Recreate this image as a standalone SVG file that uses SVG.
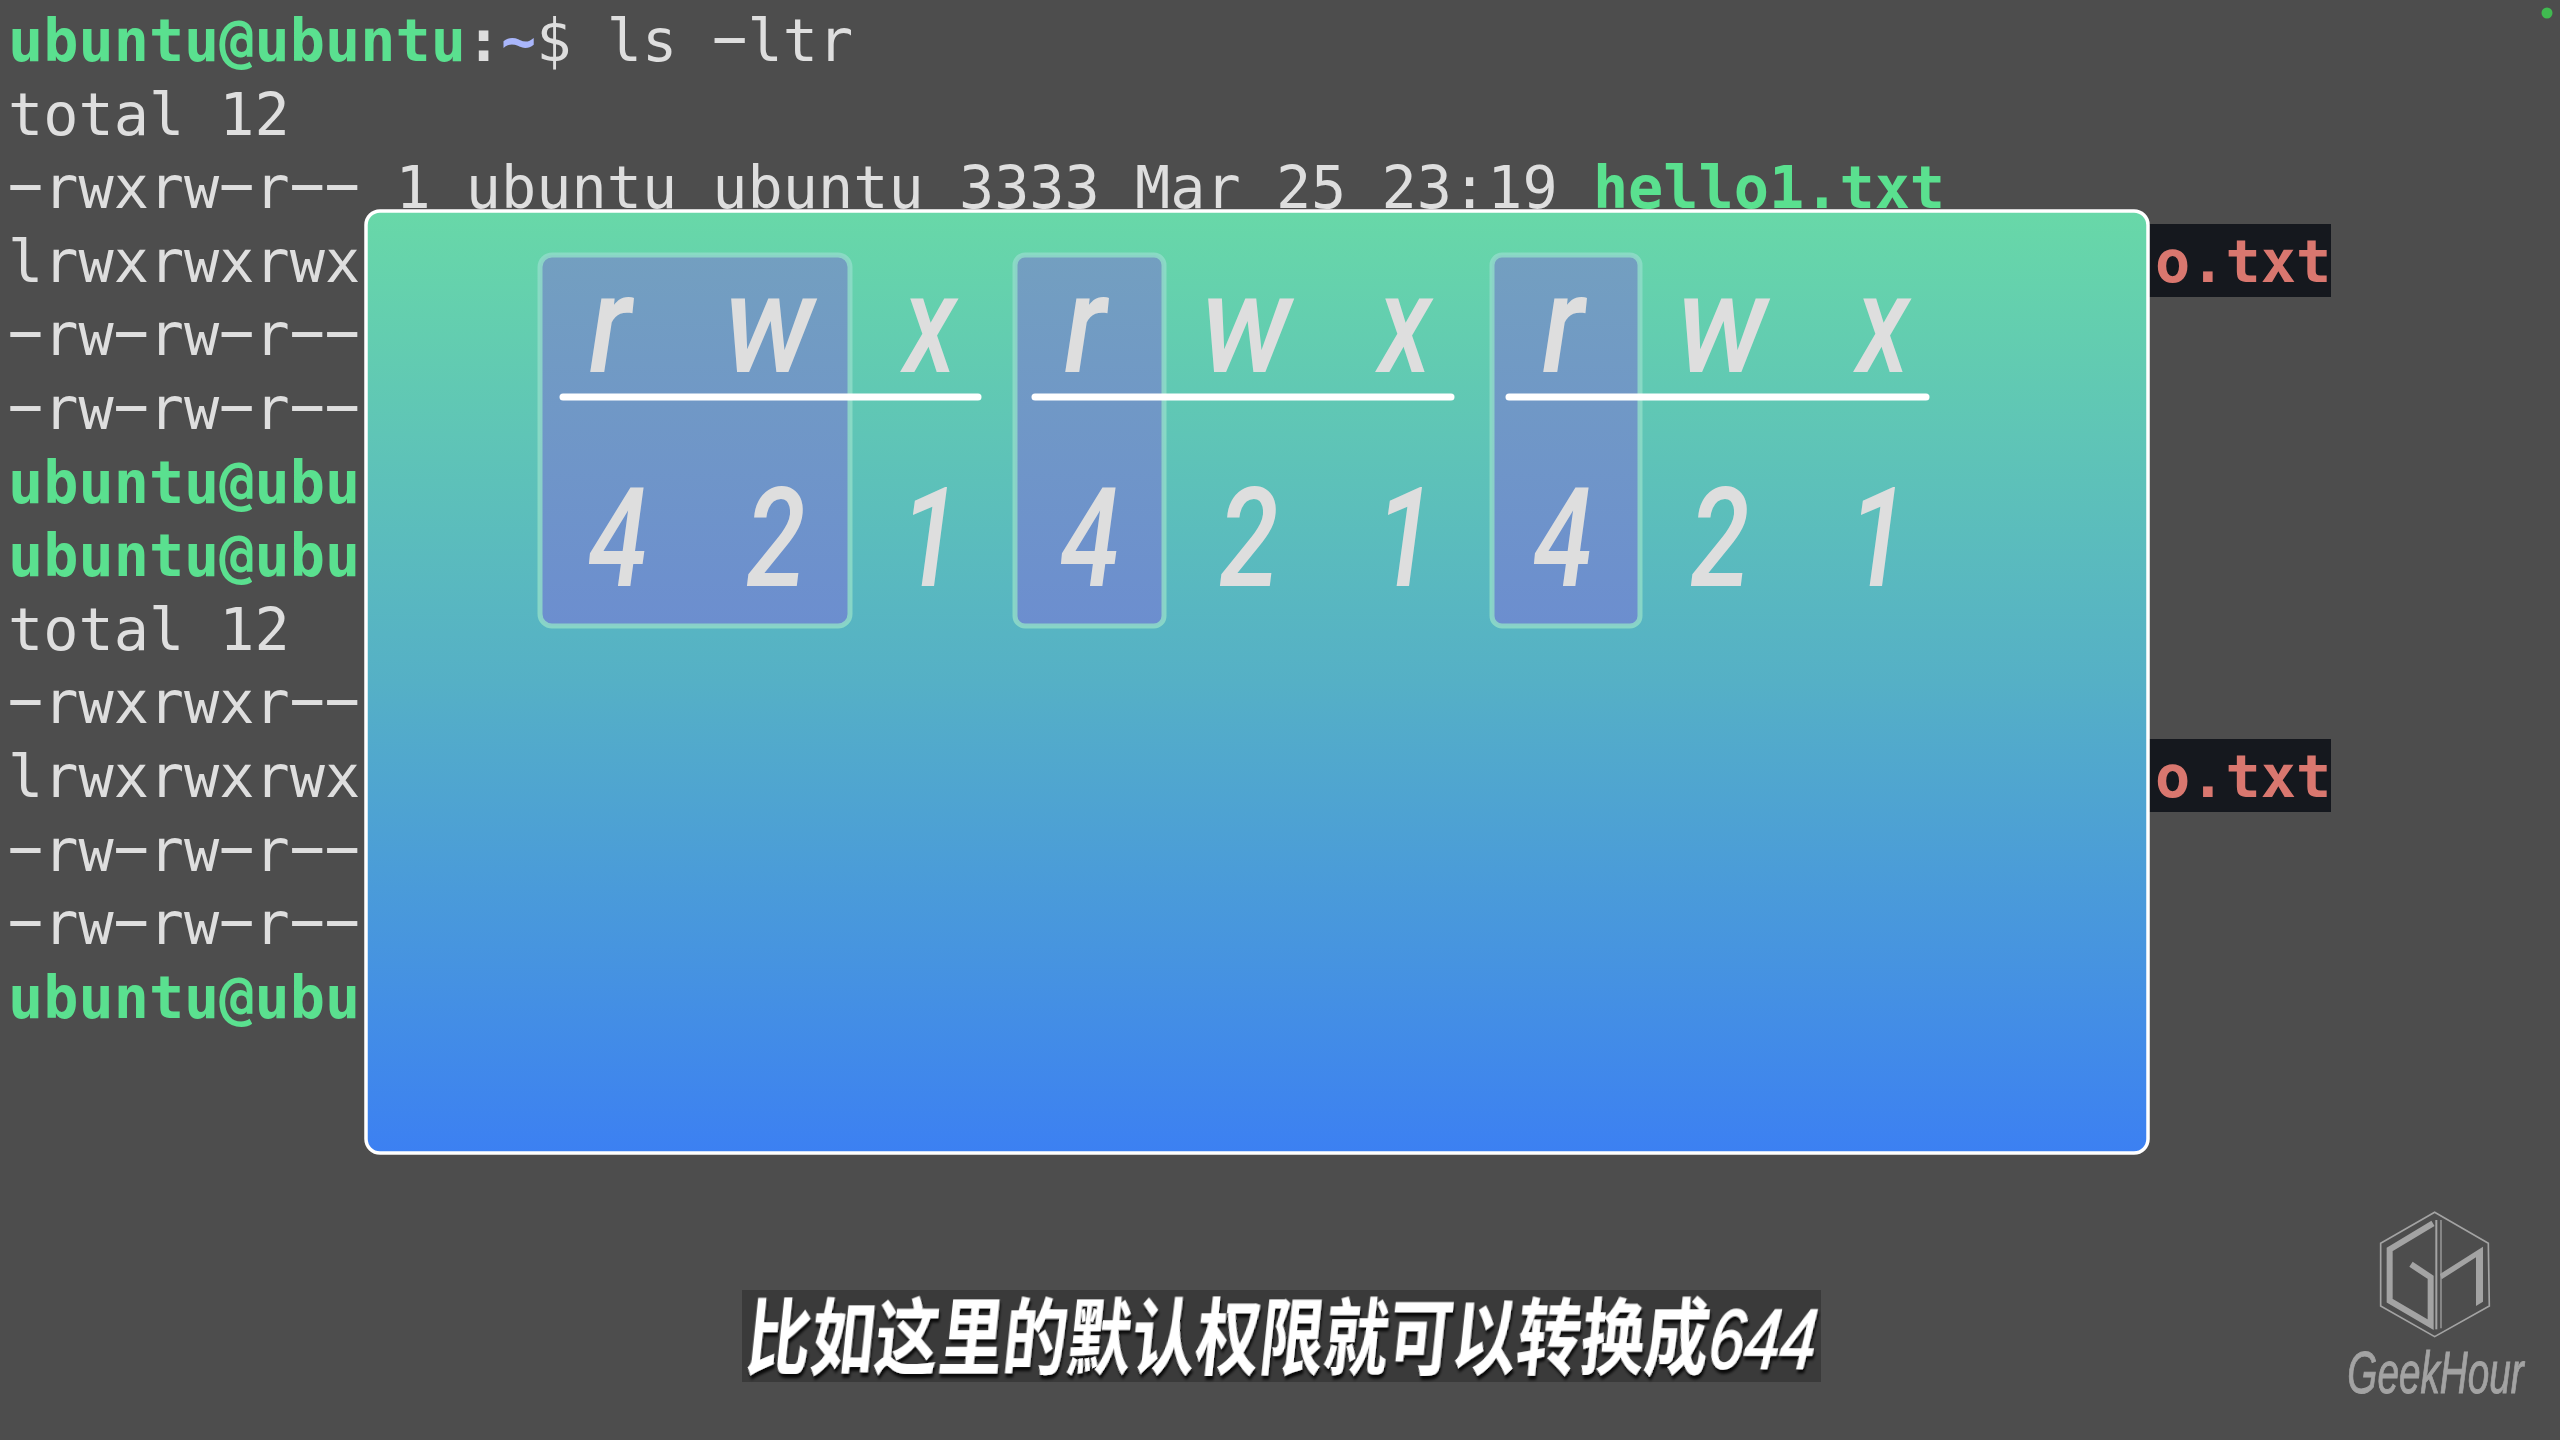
<svg xmlns="http://www.w3.org/2000/svg" width="2560" height="1440" viewBox="0 0 2560 1440">
<style>
.t{font-family:"DejaVu Sans Mono","Liberation Mono",monospace;font-size:58.5px;fill:#dedede}
.d{font-family:Roboto,"DejaVu Sans Mono",sans-serif;font-size:66px}
.g{fill:#5ae08f;font-weight:700}
.b{fill:#dedede;font-weight:700}
.p{fill:#a9b6fb;font-weight:700}
.r{font-family:"DejaVu Sans Mono","Liberation Mono",monospace;font-size:58.5px;fill:#d9776f;font-weight:700}
.h{fill:url(#hl);stroke:#8fdcc8;stroke-width:5;stroke-opacity:.85}
.u{stroke:#fff;stroke-width:7;stroke-linecap:round}
.l{font-family:Roboto,"Liberation Sans",sans-serif;font-style:italic;font-weight:500;font-size:138px;fill:#dedede;text-anchor:middle}
.s{font-family:"Noto Sans CJK SC","Liberation Sans",sans-serif;font-weight:700;font-size:84px;fill:#fff;filter:url(#sh)}
.n{font-family:"Liberation Sans",sans-serif;font-weight:400;font-style:italic;stroke:#fff;stroke-width:1.5}
.m{fill:none;stroke:#a3a3a3}
</style>
<defs>
<linearGradient id="pg" x1="0" y1="0" x2="0" y2="1"><stop offset="0" stop-color="#68d8a8"/><stop offset=".5" stop-color="#55b0c6"/><stop offset="1" stop-color="#3c80f2"/></linearGradient>
<linearGradient id="hl" x1="0" y1="0" x2="0" y2="1"><stop offset="0" stop-color="#739fc0"/><stop offset="1" stop-color="#6c8ecf"/></linearGradient>
<filter id="sh" x="-5%" y="-10%" width="110%" height="125%"><feDropShadow dx="2" dy="4" stdDeviation="1.5" flood-color="#000" flood-opacity=".85"/></filter>
</defs>
<rect width="2560" height="1440" fill="#4d4d4d"/>
<circle cx="2547" cy="13" r="5.5" fill="#40ba50"/>
<g id="terminal">
<text class="t" x="8" y="61"><tspan class="g">ubuntu@ubuntu</tspan><tspan class="b">:</tspan><tspan class="p">~</tspan>$ ls <tspan class="d" x="712.3" textLength="35" lengthAdjust="spacingAndGlyphs">-</tspan><tspan x="747.6">ltr</tspan></text>
<text class="t" x="8" y="134.6">total 12</text>
<text class="t" y="208.2"><tspan class="d" x="8" textLength="35" lengthAdjust="spacingAndGlyphs">-</tspan><tspan x="43.2">rwxrw</tspan><tspan class="d" x="219.3" textLength="35" lengthAdjust="spacingAndGlyphs">-</tspan><tspan x="254.5">r</tspan><tspan class="d" x="289.7" textLength="70" lengthAdjust="spacingAndGlyphs">--</tspan><tspan x="395.4">1 ubuntu ubuntu 3333 Mar 25 23:19 <tspan class="g">hello1.txt</tspan></tspan></text>
<text class="t" x="8" y="281.8">lrwxrwxrwx</text>
<text class="t" y="355.4"><tspan class="d" x="8" textLength="35" lengthAdjust="spacingAndGlyphs">-</tspan><tspan x="43.2">rw</tspan><tspan class="d" x="113.65" textLength="35" lengthAdjust="spacingAndGlyphs">-</tspan><tspan x="148.87">rw</tspan><tspan class="d" x="219.3" textLength="35" lengthAdjust="spacingAndGlyphs">-</tspan><tspan x="254.5">r</tspan><tspan class="d" x="289.7" textLength="70" lengthAdjust="spacingAndGlyphs">--</tspan></text>
<text class="t" y="429"><tspan class="d" x="8" textLength="35" lengthAdjust="spacingAndGlyphs">-</tspan><tspan x="43.2">rw</tspan><tspan class="d" x="113.65" textLength="35" lengthAdjust="spacingAndGlyphs">-</tspan><tspan x="148.87">rw</tspan><tspan class="d" x="219.3" textLength="35" lengthAdjust="spacingAndGlyphs">-</tspan><tspan x="254.5">r</tspan><tspan class="d" x="289.7" textLength="70" lengthAdjust="spacingAndGlyphs">--</tspan></text>
<text class="t g" x="8" y="502.6">ubuntu@ubu</text>
<text class="t g" x="8" y="576.2">ubuntu@ubu</text>
<text class="t" x="8" y="649.8">total 12</text>
<text class="t" y="723.4"><tspan class="d" x="8" textLength="35" lengthAdjust="spacingAndGlyphs">-</tspan><tspan x="43.2">rwxrwxr</tspan><tspan class="d" x="289.7" textLength="70" lengthAdjust="spacingAndGlyphs">--</tspan></text>
<text class="t" x="8" y="797">lrwxrwxrwx</text>
<text class="t" y="870.6"><tspan class="d" x="8" textLength="35" lengthAdjust="spacingAndGlyphs">-</tspan><tspan x="43.2">rw</tspan><tspan class="d" x="113.65" textLength="35" lengthAdjust="spacingAndGlyphs">-</tspan><tspan x="148.87">rw</tspan><tspan class="d" x="219.3" textLength="35" lengthAdjust="spacingAndGlyphs">-</tspan><tspan x="254.5">r</tspan><tspan class="d" x="289.7" textLength="70" lengthAdjust="spacingAndGlyphs">--</tspan></text>
<text class="t" y="944.2"><tspan class="d" x="8" textLength="35" lengthAdjust="spacingAndGlyphs">-</tspan><tspan x="43.2">rw</tspan><tspan class="d" x="113.65" textLength="35" lengthAdjust="spacingAndGlyphs">-</tspan><tspan x="148.87">rw</tspan><tspan class="d" x="219.3" textLength="35" lengthAdjust="spacingAndGlyphs">-</tspan><tspan x="254.5">r</tspan><tspan class="d" x="289.7" textLength="70" lengthAdjust="spacingAndGlyphs">--</tspan></text>
<text class="t g" x="8" y="1017.8">ubuntu@ubu</text>
<rect x="2140" y="224" width="191" height="73" fill="#15181e"/>
<rect x="2140" y="739" width="191" height="73" fill="#15181e"/>
<text class="r" x="2155" y="281.8">o.txt</text>
<text class="r" x="2155" y="797">o.txt</text>
</g>
<g id="panel">
<rect x="366" y="211" width="1782" height="942" rx="14" fill="url(#pg)" stroke="#fff" stroke-width="3.5"/>
</g>
<g id="highlight-1"><rect class="h" x="540" y="255" width="310" height="371" rx="12"/></g>
<g id="highlight-2"><rect class="h" x="1015" y="255" width="149" height="371" rx="10"/></g>
<g id="highlight-3"><rect class="h" x="1492" y="255" width="148" height="371" rx="10"/></g>
<g id="connectors">
<line class="u" x1="563" y1="397" x2="978" y2="397"/>
<line class="u" x1="1035" y1="397" x2="1451" y2="397"/>
<line class="u" x1="1509" y1="397" x2="1926" y2="397"/>
</g>
<g id="permissions">
<text class="l" transform="translate(610,372) scale(.88,1)">r</text>
<text class="l" transform="translate(769,372) scale(.91,1)">w</text>
<text class="l" transform="translate(930,372) scale(.78,1)">x</text>
<text class="l" transform="translate(1085,372) scale(.88,1)">r</text>
<text class="l" transform="translate(1246,372) scale(.91,1)">w</text>
<text class="l" transform="translate(1405,372) scale(.78,1)">x</text>
<text class="l" transform="translate(1563,372) scale(.88,1)">r</text>
<text class="l" transform="translate(1722,372) scale(.91,1)">w</text>
<text class="l" transform="translate(1883,372) scale(.78,1)">x</text>
<text class="l" transform="translate(618,586) scale(.78,1)">4</text>
<text class="l" transform="translate(776,586) scale(.78,1)">2</text>
<text class="l" transform="translate(930,586) scale(.78,1)">1</text>
<text class="l" transform="translate(1090,586) scale(.78,1)">4</text>
<text class="l" transform="translate(1249,586) scale(.78,1)">2</text>
<text class="l" transform="translate(1405,586) scale(.78,1)">1</text>
<text class="l" transform="translate(1563,586) scale(.78,1)">4</text>
<text class="l" transform="translate(1720,586) scale(.78,1)">2</text>
<text class="l" transform="translate(1878,586) scale(.78,1)">1</text>
</g>
<g id="subtitle">
<rect x="742" y="1290" width="1079" height="92" fill="#3a3a3a"/>
<text class="s" transform="translate(744,1368) skewX(-6) scale(.764,1)">比如这里的默认权限就可以转换成<tspan class="n">644</tspan></text>
</g>
<g id="logo" transform="translate(2340,1200) scale(.3333)">
<polygon class="m" stroke-width="5" points="284,37 445,130 448,318 284,410 122,318 122,130"/>
<polyline class="m" stroke-width="18" points="279,70 149,148 149,302 272,374 272,232 213,193"/>
<line class="m" stroke-width="6" x1="289" y1="60" x2="289" y2="388"/>
<line class="m" stroke-width="4" x1="303" y1="60" x2="303" y2="385"/>
<polygon fill="#a3a3a3" points="429,140 429,305 408,318 408,172 305,238 300,222"/>
<text font-family="Liberation Sans,Arial,sans-serif" font-style="italic" font-size="180" fill="#a3a3a3" stroke="#a3a3a3" stroke-width="3" transform="translate(22,578) scale(.645,1)">GeekHour</text>
</g>
</svg>
